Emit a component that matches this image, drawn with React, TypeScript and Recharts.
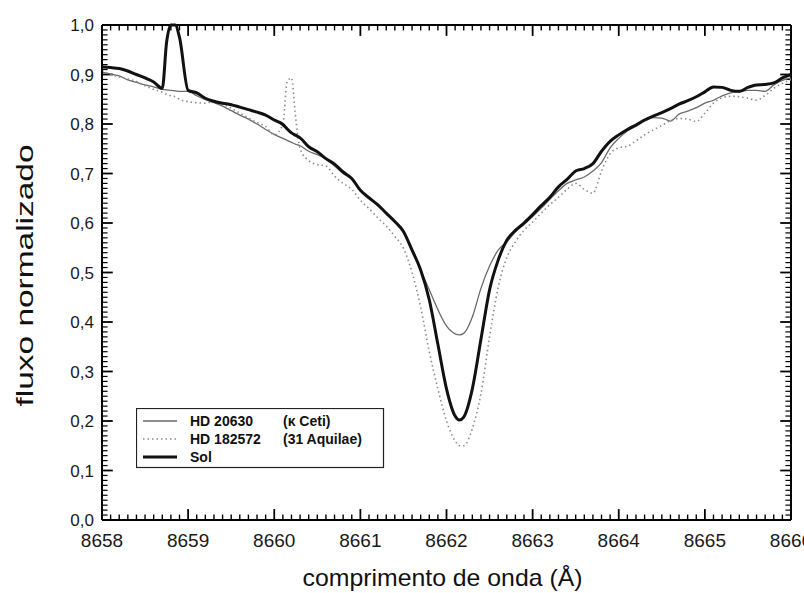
import React from 'react';
import { LineChart, Line, XAxis, YAxis, Legend, ReferenceLine } from 'recharts';

// wavelength grid (Å), with extra points around the two narrow spikes and the line core
const wavelengths = [
  8658.0, 8658.1, 8658.2, 8658.3, 8658.4, 8658.5, 8658.6, 8658.7, 8658.75, 8658.8, 8658.85, 8658.9,
  8659.0, 8659.1, 8659.2, 8659.3, 8659.4, 8659.5, 8659.6, 8659.7, 8659.8, 8659.9,
  8660.0, 8660.1, 8660.15, 8660.2, 8660.25, 8660.3, 8660.4, 8660.5, 8660.6, 8660.7, 8660.8, 8660.9,
  8661.0, 8661.1, 8661.2, 8661.3, 8661.4, 8661.5, 8661.6, 8661.7, 8661.8, 8661.9,
  8662.0, 8662.1, 8662.15, 8662.2, 8662.3, 8662.4, 8662.5, 8662.6, 8662.7, 8662.8, 8662.9,
  8663.0, 8663.1, 8663.2, 8663.3, 8663.4, 8663.5, 8663.6, 8663.7, 8663.8, 8663.9,
  8664.0, 8664.1, 8664.2, 8664.3, 8664.4, 8664.5, 8664.6, 8664.7, 8664.8, 8664.9,
  8665.0, 8665.1, 8665.2, 8665.3, 8665.4, 8665.5, 8665.6, 8665.7, 8665.8, 8665.9,
  8666.0,
];

const hd20630Flux = [
  0.905, 0.901, 0.897, 0.889, 0.884, 0.879, 0.875, 0.870, 0.869, 0.868, 0.867, 0.866,
  0.866, 0.857, 0.849, 0.843, 0.836, 0.827, 0.818, 0.810, 0.800, 0.789,
  0.779, 0.771, 0.767, 0.763, 0.759, 0.756, 0.745, 0.738, 0.730, 0.715, 0.700, 0.689,
  0.665, 0.650, 0.636, 0.619, 0.602, 0.582, 0.548, 0.505, 0.465, 0.425,
  0.392, 0.376, 0.374, 0.377, 0.410, 0.468, 0.513, 0.545, 0.562, 0.582, 0.597,
  0.613, 0.630, 0.648, 0.665, 0.680, 0.687, 0.693, 0.705, 0.722, 0.752,
  0.771, 0.786, 0.795, 0.806, 0.813, 0.812, 0.806, 0.820, 0.826, 0.833,
  0.842, 0.848, 0.857, 0.863, 0.865, 0.868, 0.868, 0.866, 0.879, 0.888,
  0.893,
];

const hd182572Flux = [
  0.908, 0.900, 0.895, 0.891, 0.886, 0.877, 0.870, 0.864, 0.860, 0.857, 0.855, 0.850,
  0.845, 0.843, 0.842, 0.846, 0.840, 0.832, 0.822, 0.812, 0.803, 0.795,
  0.778, 0.800, 0.885, 0.893, 0.810, 0.750, 0.726, 0.718, 0.715, 0.695, 0.680, 0.668,
  0.646, 0.629, 0.611, 0.594, 0.573, 0.549, 0.500, 0.430, 0.340, 0.265,
  0.200, 0.160, 0.150, 0.150, 0.185, 0.255, 0.370, 0.470, 0.530, 0.562, 0.585,
  0.602, 0.620, 0.637, 0.652, 0.668, 0.680, 0.668, 0.660, 0.705, 0.740,
  0.752, 0.755, 0.766, 0.778, 0.788, 0.797, 0.807, 0.811, 0.810, 0.805,
  0.822, 0.842, 0.853, 0.856, 0.855, 0.852, 0.848, 0.858, 0.872, 0.882,
  0.890,
];

const solFlux = [
  0.915, 0.914, 0.912, 0.907, 0.900, 0.893, 0.885, 0.872, 0.965, 1.0, 1.0, 0.975,
  0.868, 0.863, 0.852, 0.846, 0.842, 0.839, 0.834, 0.829, 0.824, 0.818,
  0.808, 0.799, 0.790, 0.782, 0.777, 0.772, 0.754, 0.744, 0.730, 0.719, 0.703, 0.690,
  0.666, 0.651, 0.637, 0.620, 0.603, 0.583, 0.545, 0.505, 0.445, 0.355,
  0.265, 0.210, 0.202, 0.208, 0.265, 0.365, 0.465, 0.525, 0.565, 0.585, 0.600,
  0.617, 0.635, 0.652, 0.673, 0.688, 0.705, 0.710, 0.720, 0.745, 0.765,
  0.778, 0.789, 0.798, 0.808, 0.816, 0.823, 0.831, 0.840, 0.847, 0.855,
  0.865, 0.875, 0.874, 0.868, 0.866, 0.874, 0.879, 0.880, 0.883, 0.893,
  0.900,
];

const xMajorTicks = [8658, 8659, 8660, 8661, 8662, 8663, 8664, 8665, 8666];
const xTickLabels = ['8658', '8659', '8660', '8661', '8662', '8663', '8664', '8665', '8666'];
const yMajorTicks = [0, 0.1, 0.2, 0.3, 0.4, 0.5, 0.6, 0.7, 0.8, 0.9, 1.0];
const yTickLabels = ['0,0', '0,1', '0,2', '0,3', '0,4', '0,5', '0,6', '0,7', '0,8', '0,9', '1,0'];

const seriesNames = ['HD 20630', 'HD 182572', 'Sol'];
const seriesNotes = ['(κ Ceti)', '(31 Aquilae)', ''];

const FONT = 'Arial, "Liberation Sans", Helvetica, sans-serif';

const X_MIN = 8658;
const X_MAX = 8666;

const lineStyles = [
  { stroke: '#6a6a6a', strokeWidth: 1.3, dash: undefined as string | undefined },
  { stroke: '#8c8c8c', strokeWidth: 1.6, dash: '1.5 3' },
  { stroke: '#111111', strokeWidth: 3, dash: undefined as string | undefined },
];

// minor tick positions (0.1 Å on x, 0.01 on y)
const xMinorTicks = Array.from({ length: 81 }, (_, i) => Math.round((X_MIN + i * 0.1) * 10) / 10);
const yMinorTicks = Array.from({ length: 101 }, (_, i) => i / 100);

// tick lengths in data units (plot is ~689 px for 8 Å and ~495 px for 1.0)
const TICK_X_MAJOR = 0.125;
const TICK_X_MINOR = 0.065;
const TICK_Y_MAJOR = 0.022;
const TICK_Y_MINOR = 0.011;

const data = wavelengths.map((wl, i) => ({
  wl,
  hd20630: hd20630Flux[i],
  hd182572: hd182572Flux[i],
  sol: solFlux[i],
}));

const findIdx = (list: number[], v: number) => list.findIndex((t) => Math.abs(t - v) < 1e-6);
const xLabel = (v: number) => xTickLabels[findIdx(xMajorTicks, v)] ?? '';
const yLabel = (v: number) => yTickLabels[findIdx(yMajorTicks, v)] ?? '';

const XTitle = ({ viewBox }: any) => (
  <text
    x={viewBox.x + viewBox.width / 2 - 4}
    y={viewBox.y + 66}
    textAnchor="middle"
    fontSize={24}
    fontFamily={FONT}
    fill="#111"
    textLength={280}
    lengthAdjust="spacingAndGlyphs"
  >
    comprimento de onda (Å)
  </text>
);

const YTitle = ({ viewBox }: any) => {
  const cx = 33;
  const cy = viewBox.y + viewBox.height / 2 + 3;
  return (
    <text
      x={cx}
      y={cy}
      transform={`rotate(-90 ${cx} ${cy})`}
      textAnchor="middle"
      fontSize={24}
      fontFamily={FONT}
      fill="#111"
      textLength={262}
      lengthAdjust="spacingAndGlyphs"
    >
      fluxo normalizado
    </text>
  );
};

const LegendBox = () => (
  <svg width={249} height={61} style={{ display: 'block' }}>
    <rect x={0.5} y={0.5} width={247} height={59} fill="#fff" stroke="#222" strokeWidth={1.2} />
    {seriesNames.map((name, i) => {
      const cy = 13 + i * 18;
      const st = lineStyles[i];
      return (
        <g key={name}>
          <line x1={7} x2={41} y1={cy} y2={cy} stroke={st.stroke} strokeWidth={st.strokeWidth} strokeDasharray={st.dash} />
          <text x={54} y={cy + 5} fontSize={14} fontWeight="bold" fontFamily={FONT} fill="#111">
            {name}
          </text>
          {seriesNotes[i] && (
            <text x={147} y={cy + 5} fontSize={14} fontWeight="bold" fontFamily={FONT} fill="#111">
              {seriesNotes[i]}
            </text>
          )}
        </g>
      );
    })}
  </svg>
);

// inward frame ticks, drawn as short reference segments through the chart's own scales
const renderFrameTicks = () => {
  const out: React.ReactNode[] = [];
  xMinorTicks.forEach((v) => {
    const major = findIdx(xMajorTicks, v) >= 0;
    const len = major ? TICK_Y_MAJOR : TICK_Y_MINOR;
    const w = major ? 1.8 : 1.4;
    out.push(
      <ReferenceLine key={`b${v}`} segment={[{ x: v, y: 0 }, { x: v, y: len }]} stroke="#000" strokeWidth={w} ifOverflow="visible" />,
      <ReferenceLine key={`t${v}`} segment={[{ x: v, y: 1 }, { x: v, y: 1 - len }]} stroke="#000" strokeWidth={w} ifOverflow="visible" />,
    );
  });
  yMinorTicks.forEach((v) => {
    const major = findIdx(yMajorTicks, v) >= 0;
    const len = major ? TICK_X_MAJOR : TICK_X_MINOR;
    const w = major ? 1.8 : 1.2;
    out.push(
      <ReferenceLine key={`l${v}`} segment={[{ x: X_MIN, y: v }, { x: X_MIN + len, y: v }]} stroke="#000" strokeWidth={w} ifOverflow="visible" />,
      <ReferenceLine key={`r${v}`} segment={[{ x: X_MAX, y: v }, { x: X_MAX - len, y: v }]} stroke="#000" strokeWidth={w} ifOverflow="visible" />,
    );
  });
  return out;
};

const App: React.FC = () => {
  return (
    <div style={{ position: 'absolute', left: 0, top: 0, width: 804, height: 593, background: '#fff' }}>
      <LineChart width={804} height={593} data={data} margin={{ top: 25, right: 13, bottom: 43, left: 42 }}>
        <XAxis dataKey="wl" type="number" domain={[X_MIN, X_MAX]} ticks={xMajorTicks} interval={0}
          height={30} tickSize={0} tickMargin={14} tickLine={false} axisLine={{ stroke: '#000', strokeWidth: 2 }}
          tickFormatter={xLabel} tick={{ fontSize: 19, fill: '#1a1a1a', fontFamily: FONT }} label={XTitle} />
        <YAxis type="number" domain={[0, 1]} ticks={yMajorTicks} interval={0}
          width={60} tickSize={0} tickMargin={8} tickLine={false} axisLine={{ stroke: '#000', strokeWidth: 2 }}
          tickFormatter={yLabel} tick={{ fontSize: 17, fill: '#1a1a1a', fontFamily: FONT }} label={YTitle} />
        <ReferenceLine y={1} stroke="#000" strokeWidth={2} ifOverflow="visible" />
        <ReferenceLine x={X_MAX} stroke="#000" strokeWidth={2} ifOverflow="visible" />
        {renderFrameTicks()}
        <Legend
          layout="horizontal"
          verticalAlign="middle"
          align="center"
          content={LegendBox}
          wrapperStyle={{ left: 136, top: 408, width: 249, height: 61 }}
        />
        <Line type="monotone" dataKey="hd20630" name={seriesNames[0]} stroke={lineStyles[0].stroke} strokeWidth={lineStyles[0].strokeWidth} dot={false} activeDot={false} isAnimationActive={false} />
        <Line type="monotone" dataKey="hd182572" name={seriesNames[1]} stroke={lineStyles[1].stroke} strokeWidth={lineStyles[1].strokeWidth} strokeDasharray={lineStyles[1].dash} dot={false} activeDot={false} isAnimationActive={false} />
        <Line type="monotone" dataKey="sol" name={seriesNames[2]} stroke={lineStyles[2].stroke} strokeWidth={lineStyles[2].strokeWidth} dot={false} activeDot={false} isAnimationActive={false} />
      </LineChart>
    </div>
  );
};

export default App;
